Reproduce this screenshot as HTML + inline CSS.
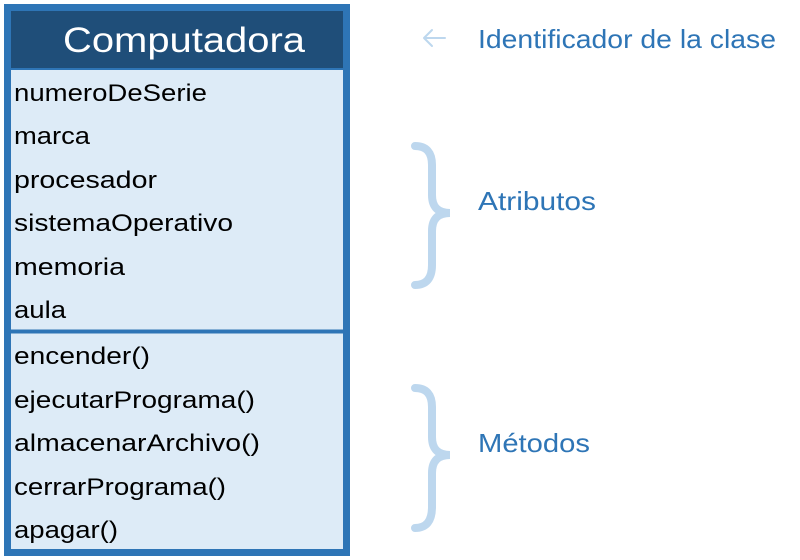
<!DOCTYPE html>
<html><head><meta charset="utf-8"><style>
html,body{margin:0;padding:0;background:#fff;}
svg{display:block;}
text{font-family:"Liberation Sans",sans-serif;}
</style></head><body>
<svg width="800" height="560" viewBox="0 0 800 560" xmlns="http://www.w3.org/2000/svg">
<rect x="0" y="0" width="800" height="560" fill="#fff"/>
<rect x="7.5" y="7.5" width="339" height="545" fill="#ddebf7" stroke="#2e75b6" stroke-width="7"/>
<rect x="11" y="11" width="332" height="57" fill="#1f4e79"/>
<line x1="11" y1="69" x2="343" y2="69" stroke="#2e75b6" stroke-width="2"/>
<line x1="11" y1="331.5" x2="343" y2="331.5" stroke="#2e75b6" stroke-width="4"/>
<text x="63" y="52" font-size="35" fill="#fff" textLength="242" lengthAdjust="spacingAndGlyphs">Computadora</text>
<g font-size="24" fill="#000">
<text x="14" y="101" textLength="193" lengthAdjust="spacingAndGlyphs">numeroDeSerie</text>
<text x="14" y="144" textLength="76" lengthAdjust="spacingAndGlyphs">marca</text>
<text x="14" y="188" textLength="143" lengthAdjust="spacingAndGlyphs">procesador</text>
<text x="14" y="231" textLength="219" lengthAdjust="spacingAndGlyphs">sistemaOperativo</text>
<text x="14" y="275" textLength="111" lengthAdjust="spacingAndGlyphs">memoria</text>
<text x="14" y="318" textLength="52" lengthAdjust="spacingAndGlyphs">aula</text>
<text x="14" y="364" textLength="136" lengthAdjust="spacingAndGlyphs">encender()</text>
<text x="14" y="408" textLength="241" lengthAdjust="spacingAndGlyphs">ejecutarPrograma()</text>
<text x="14" y="451" textLength="246" lengthAdjust="spacingAndGlyphs">almacenarArchivo()</text>
<text x="14" y="495" textLength="212" lengthAdjust="spacingAndGlyphs">cerrarPrograma()</text>
<text x="14" y="538" textLength="104" lengthAdjust="spacingAndGlyphs">apagar()</text>
</g>
<g stroke="#bdd7ee" fill="none" stroke-linecap="round">
<path d="M424 38 H445 M424 38 L432 30 M424 38 L432 46" stroke-width="2"/>
<path d="M415 146 Q432 146 432 165 V195 Q432 213 450 213 Q432 213 432 231 V265 Q432 285 415 285" stroke-width="8"/>
<path d="M415 388 Q432 388 432 407 V437 Q432 455 450 455 Q432 455 432 473 V507 Q432 528 415 528" stroke-width="8"/>
</g>
<g font-size="26" fill="#2e75b6">
<text x="478" y="48" textLength="298" lengthAdjust="spacingAndGlyphs">Identificador de la clase</text>
<text x="478" y="210" textLength="118" lengthAdjust="spacingAndGlyphs">Atributos</text>
<text x="478" y="452" textLength="112" lengthAdjust="spacingAndGlyphs">Métodos</text>
</g>
</svg>
</body></html>
